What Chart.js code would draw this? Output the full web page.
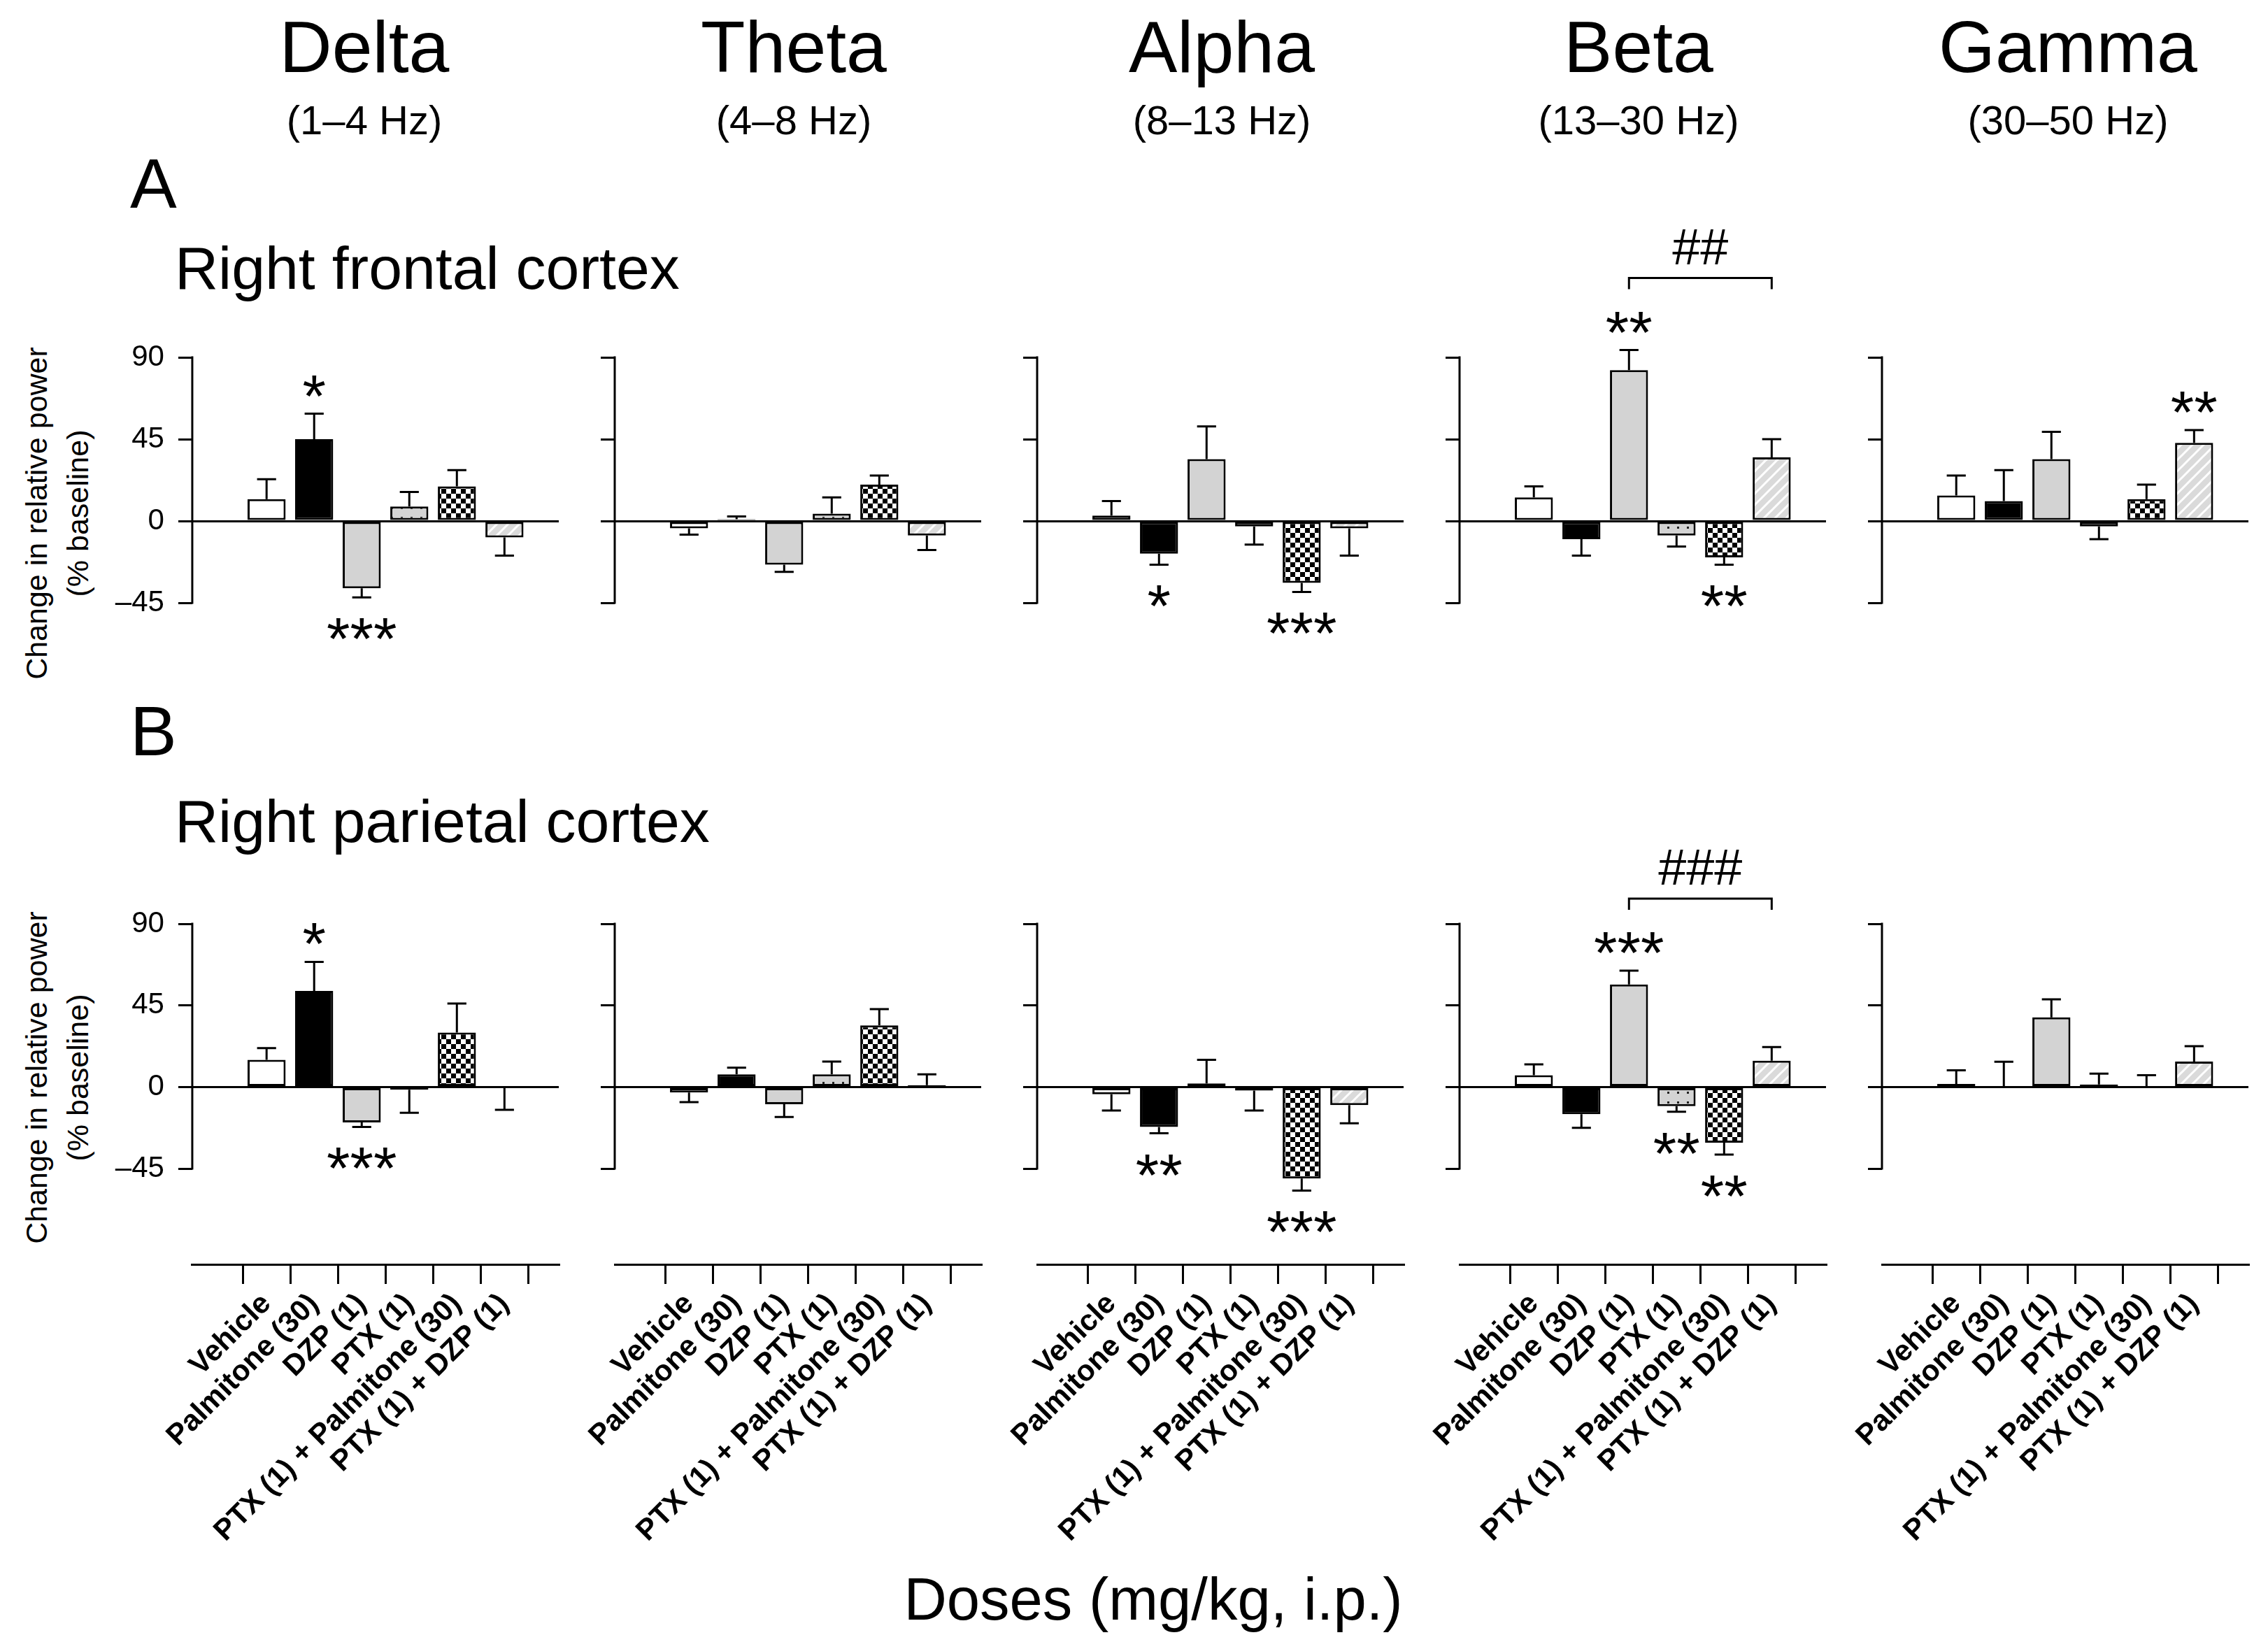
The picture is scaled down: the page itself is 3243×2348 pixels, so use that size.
<!DOCTYPE html>
<html>
<head>
<meta charset="utf-8">
<script src="https://cdn.jsdelivr.net/npm/chart.js@4.4.1/dist/chart.umd.min.js"></script>
<style>
  body { margin: 0; background: #fff; }
  #page { position: relative; width: 3243px; height: 2348px; overflow: hidden; background: #fff;
          font-family: 'Liberation Sans', Arial, sans-serif; color: #000; }
  .t { position: absolute; white-space: nowrap; line-height: 1; }
  canvas { position: absolute; }
</style>
</head>
<body>
<div id="page"></div>
<script>
// doses on the x axis
const doses = ['Vehicle', 'Palmitone (30)', 'DZP (1)', 'PTX (1)', 'PTX (1) + Palmitone (30)', 'PTX (1) + DZP (1)'];
const bands = ['Delta', 'Theta', 'Alpha', 'Beta', 'Gamma'];
const bandRanges = ['(1–4 Hz)', '(4–8 Hz)', '(8–13 Hz)', '(13–30 Hz)', '(30–50 Hz)'];
const yTicks = [90, 45, 0, -45];

// right frontal cortex, % change, one row per band
const frontalMean = [
  [12, 45, -37, 8, 19, -9],
  [-4, 1, -24, 4, 20, -8],
  [3, -18, 34, -3, -34, -4],
  [13, -10, 83, -8, -20, 35],
  [14, 11, 34, -3, 12, 43]
];
const frontalSem = [
  [11, 14, 5, 8, 9, 10],
  [3.5, 1.5, 4, 9, 5, 8],
  [8, 6, 18, 10, 5, 15],
  [6, 9, 11, 6, 4, 10],
  [11, 17, 15, 7, 8, 7]
];
const frontalSig = [
  ['', '*', '***', '', '', ''],
  ['', '', '', '', '', ''],
  ['', '*', '', '', '***', ''],
  ['', '', '**', '', '**', ''],
  ['', '', '', '', '', '**']
];
const frontalHash = ['', '', '', '##', ''];

// right parietal cortex
const parietalMean = [
  [15, 53, -19.5, -1.5, 30, -0.6],
  [-3, 7, -9.5, 7, 34, 1],
  [-4, -22, 2, -2, -50.5, -10],
  [6.5, -15, 56.5, -10.6, -30.7, 14.5],
  [1.7, 0.5, 38.4, 1.4, 0.5, 14]
];
const parietalSem = [
  [6.5, 16, 2.5, 12.7, 16, 12],
  [5.3, 3.7, 7, 7, 9, 6],
  [9, 3.5, 13, 11, 6.6, 10],
  [6, 7.5, 7.7, 3, 6.6, 7.5],
  [7.5, 13.4, 10, 6, 6, 8.5]
];
const parietalSig = [
  ['', '*', '***', '', '', ''],
  ['', '', '', '', '', ''],
  ['', '**', '', '', '***', ''],
  ['', '', '***', '**', '**', ''],
  ['', '', '', '', '', '']
];
const parietalHash = ['', '', '', '###', ''];
const hashPair = [2, 5];

const FONT = "'Liberation Sans', Arial, sans-serif";
const page = document.getElementById('page');

function text(str, left, top, size, extra) {
  const d = document.createElement('div');
  d.className = 't';
  d.textContent = str;
  d.style.left = left + 'px';
  d.style.top = top + 'px';
  d.style.fontSize = size + 'px';
  if (extra) Object.assign(d.style, extra);
  page.appendChild(d);
  return d;
}
function centered(str, cx, top, size) {
  text(str, cx - 400, top, size, { width: '800px', textAlign: 'center' });
}

// headings
const titleX = [521, 1135, 1747, 2343, 2957];
bands.forEach((b, i) => {
  centered(b, titleX[i], 15, 104);
  centered(bandRanges[i], titleX[i], 143, 58);
});
text('A', 186, 212, 100);
text('Right frontal cortex', 250, 340, 86);
text('B', 186, 995, 100);
text('Right parietal cortex', 250, 1131, 86);
centered('Doses (mg/kg, i.p.)', 1649, 2244, 85);

function yTitle(cy) {
  const d = text('', 82 - 300, cy - 59, 43, { width: '600px', height: '118px', lineHeight: '59px',
    textAlign: 'center', transform: 'rotate(-90deg)', whiteSpace: 'normal' });
  d.innerHTML = 'Change in relative power<br>(% baseline)';
}
yTitle(734);
yTitle(1541);

// fill patterns
function pattern(w, h, draw) {
  const c = document.createElement('canvas');
  c.width = w; c.height = h;
  draw(c.getContext('2d'));
  return c.getContext('2d').createPattern(c, 'repeat');
}
const GREY = '#d3d3d3';
const dotted = pattern(14, 14, g => {
  g.fillStyle = GREY; g.fillRect(0, 0, 14, 14);
  g.fillStyle = '#222'; g.fillRect(5, 5, 3, 3);
});
const checker = pattern(14, 14, g => {
  g.fillStyle = '#fff'; g.fillRect(0, 0, 14, 14);
  g.fillStyle = '#000'; g.fillRect(0, 0, 7, 7); g.fillRect(7, 7, 7, 7);
});
const hatch = pattern(16, 16, g => {
  g.fillStyle = '#dadada'; g.fillRect(0, 0, 16, 16);
  g.strokeStyle = '#fff'; g.lineWidth = 3;
  g.beginPath();
  g.moveTo(-4, 20); g.lineTo(20, -4);
  g.moveTo(-4, 4); g.lineTo(4, -4);
  g.moveTo(12, 20); g.lineTo(20, 12);
  g.stroke();
});
const fills = ['#fff', '#000', GREY, dotted, checker, hatch];

// error bars, y axis line, asterisks and hash brackets
const marks = {
  id: 'marks',
  afterDatasetsDraw(chart) {
    const o = chart.options.plugins.marks;
    const ctx = chart.ctx, y = chart.scales.y, area = chart.chartArea;
    const bars = chart.getDatasetMeta(0).data;
    ctx.save();
    ctx.strokeStyle = '#000';
    ctx.fillStyle = '#000';
    ctx.lineWidth = 3;
    ctx.beginPath();
    ctx.moveTo(area.left, y.getPixelForValue(yTicks[0]) - 1.5);
    ctx.lineTo(area.left, y.getPixelForValue(yTicks[yTicks.length - 1]) + 1.5);
    ctx.stroke();
    ctx.textAlign = 'center';
    ctx.textBaseline = 'alphabetic';
    ctx.font = '86px ' + FONT;
    bars.forEach((bar, i) => {
      const v = o.mean[i], e = o.sem[i], s = v < 0 ? -1 : 1;
      const y0 = y.getPixelForValue(v), y1 = y.getPixelForValue(v + s * e);
      const cap = bar.width * 0.25;
      ctx.beginPath();
      ctx.moveTo(bar.x, y0); ctx.lineTo(bar.x, y1);
      ctx.moveTo(bar.x - cap, y1); ctx.lineTo(bar.x + cap, y1);
      ctx.stroke();
      if (o.sig[i]) ctx.fillText(o.sig[i], bar.x, s > 0 ? y1 + 4 : y1 + 89);
    });
    if (o.hash) {
      const a = bars[hashPair[0]], b = bars[hashPair[1]];
      const top = y.getPixelForValue(o.mean[hashPair[0]] + o.sem[hashPair[0]]) - 103;
      ctx.beginPath();
      ctx.moveTo(a.x, top + 16); ctx.lineTo(a.x, top); ctx.lineTo(b.x, top); ctx.lineTo(b.x, top + 16);
      ctx.stroke();
      ctx.font = '72px ' + FONT;
      ctx.fillText(o.hash, (a.x + b.x) / 2, top - 20);
    }
    ctx.restore();
  }
};

const rows = [
  { top: 300, height: 720, mean: frontalMean, sem: frontalSem, sig: frontalSig, hash: frontalHash,
    yMin: -45, padTop: 211, padBottom: 158, showX: false },
  { top: 1150, height: 1198, mean: parietalMean, sem: parietalSem, sig: parietalSig, hash: parietalHash,
    yMin: -97.8, padTop: 171, padBottom: 0, showX: true }
];
const xMin = -0.92, xMax = 5.5, step = 81.6;

rows.forEach(row => {
  bands.forEach((band, b) => {
    const axisX = 350 + 604 * b + xMin * step;
    const left = b === 0 ? 120 : axisX - 100;
    const yWidth = axisX - left;
    const width = Math.round(yWidth + (xMax - xMin) * step + 30);
    const cv = document.createElement('canvas');
    cv.width = width; cv.height = row.height;
    cv.style.left = left + 'px'; cv.style.top = row.top + 'px';
    cv.style.width = width + 'px'; cv.style.height = row.height + 'px';
    page.appendChild(cv);

    new Chart(cv.getContext('2d'), {
      type: 'bar',
      data: {
        datasets: [{
          data: row.mean[b].map((v, i) => ({ x: i, y: v })),
          backgroundColor: fills,
          borderColor: '#000',
          borderWidth: 3,
          borderSkipped: false,
          categoryPercentage: 1,
          barPercentage: 0.8
        }]
      },
      options: {
        responsive: false,
        animation: false,
        devicePixelRatio: 1,
        layout: { padding: { top: row.padTop, bottom: row.padBottom, left: 0, right: 30 } },
        plugins: {
          legend: { display: false },
          tooltip: { enabled: false },
          marks: { mean: row.mean[b], sem: row.sem[b], sig: row.sig[b], hash: row.hash[b] }
        },
        scales: {
          x: {
            type: 'linear',
            min: xMin, max: xMax,
            display: row.showX,
            border: { display: true, color: '#000', width: 3 },
            grid: { drawOnChartArea: false, drawTicks: true, tickLength: 28, color: '#000', lineWidth: 3 },
            afterBuildTicks: s => { s.ticks = doses.map((d, i) => ({ value: i })); },
            afterFit: s => { if (row.showX) s.height = 540; },
            ticks: {
              autoSkip: false, minRotation: 45, maxRotation: 45, padding: 4, color: '#000',
              font: { family: FONT, size: 42, weight: 'bold' },
              callback: v => doses[v]
            }
          },
          y: {
            min: row.yMin, max: 90,
            border: { display: false },
            grid: {
              drawTicks: true, tickLength: 20, lineWidth: 3, tickColor: '#000',
              color: c => (c.tick && c.tick.value === 0 ? '#000' : 'rgba(0,0,0,0)')
            },
            afterBuildTicks: s => { s.ticks = yTicks.map(v => ({ value: v })); },
            afterFit: s => { s.width = yWidth; },
            ticks: {
              display: b === 0, padding: 20, color: '#000',
              font: { family: FONT, size: 42 },
              callback: v => (v < 0 ? '–' + Math.abs(v) : String(v))
            }
          }
        }
      },
      plugins: [marks]
    });
  });
});
</script>
</body>
</html>
